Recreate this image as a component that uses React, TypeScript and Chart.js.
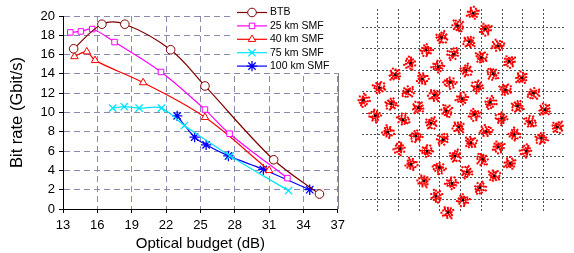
import React, { useEffect, useRef } from 'react';
import { Chart, registerables } from 'chart.js';
import { drawPoint } from 'chart.js/helpers';

Chart.register(...registerables);

const FONT = "'Liberation Sans', Arial, sans-serif";

// ---------- left chart data ----------
const budgetTicks = [13, 16, 19, 22, 25, 28, 31, 34, 37];
const rateTicks = [0, 2, 4, 6, 8, 10, 12, 14, 16, 18, 20];
const seriesNames = ['BTB', '25 km SMF', '40 km SMF', '75 km SMF', '100 km SMF'];

const btbBudget = [13.93, 16.4, 18.4, 22.4, 25.4, 31.4, 35.4];
const btbRate = [16.6, 19.15, 19.15, 16.5, 12.75, 5.1, 1.55];

const smf25Budget = [13.64, 14.56, 15.55, 17.5, 21.56, 25.4, 27.55, 32.6];
const smf25Rate = [18.3, 18.4, 18.65, 17.3, 14.2, 10.3, 7.8, 3.2];

const smf40Budget = [14.0, 15.08, 15.8, 20.0, 25.4, 31.0];
const smf40Rate = [15.8, 16.3, 15.4, 13.1, 9.5, 4.0];

const smf75Budget = [17.34, 18.35, 19.65, 21.6, 23.6, 27.6, 32.7];
const smf75Rate = [10.45, 10.6, 10.45, 10.45, 8.65, 5.5, 1.9];

const smf100Budget = [22.97, 24.5, 25.5, 27.45, 30.5, 34.55];
const smf100Rate = [9.65, 7.45, 6.65, 5.5, 4.1, 2.0];

// ---------- constellation data (cluster centres, grid units) ----------
const constI = [
  0.61, -0.15, -0.92, -1.66, -2.41, -3.15, -3.92, -4.69,
  1.19, 0.42, -0.34, -1.08, -1.85, -2.55, -3.34, -4.11,
  1.8, 1.0, 0.26, -0.51, -1.26, -2.03, -2.77, -3.51,
  2.34, 1.57, 0.82, 0.08, -0.69, -1.43, -2.16, -2.92,
  2.95, 2.16, 1.42, 0.66, -0.09, -0.84, -1.62, -2.39,
  3.51, 2.74, 1.98, 1.23, 0.49, -0.27, -1.03, -1.77,
  4.07, 3.34, 2.58, 1.81, 1.06, 0.31, -0.42, -1.19,
  4.66, 3.89, 3.17, 2.39, 1.62, 0.92, 0.11, -0.61,
];
const constQ = [
  4.65, 4.06, 3.52, 2.94, 2.33, 1.79, 1.18, 0.6,
  3.91, 3.33, 2.75, 2.16, 1.59, 1.01, 0.44, -0.11,
  3.13, 2.59, 1.99, 1.44, 0.84, 0.26, -0.31, -0.88,
  2.41, 1.84, 1.24, 0.67, 0.1, -0.46, -1.06, -1.65,
  1.64, 1.08, 0.5, -0.06, -0.64, -1.23, -1.77, -2.38,
  0.93, 0.33, -0.24, -0.85, -1.37, -1.99, -2.53, -3.15,
  0.16, -0.42, -0.99, -1.57, -2.14, -2.73, -3.27, -3.86,
  -0.64, -1.16, -1.76, -2.34, -2.92, -3.47, -4.04, -4.61,
];
const constGrid = [-4, -3, -2, -1, 0, 1, 2, 3, 4];

const toPts = (xs: number[], ys: number[]) => xs.map((x, i) => ({ x, y: ys[i] }));

// marker sprite styles for noisy symbol clusters
const BLOB_A = [
  [0, 0], [2, -1], [-2, 1], [1, 2], [-1, -2], [3, 1], [-3, -1], [2, 3], [-2, -3],
  [4, -2], [-4, 2], [0, 4], [5, 1], [-5, -1], [3, -4], [-3, 4], [1, -6],
  [6, -2], [-6, 3], [4, 4], [-2, -5], [-1, 3], [2, 6],
];
const BLOB_B = [
  [0, 0], [1, -2], [-2, 0], [2, 1], [-1, 2], [3, -1], [-3, -2], [1, 3], [-3, 2],
  [4, 1], [-5, 0], [0, -4], [3, -4], [-2, 5], [5, -3], [-4, -4], [6, 1],
  [-6, 2], [2, 5], [4, 3], [-1, -6], [7, -1],
];

function makeSprite(blob: number[][]) {
  const c = document.createElement('canvas');
  c.width = 19;
  c.height = 19;
  const g = c.getContext('2d')!;
  g.fillStyle = '#ff0000';
  blob.forEach(([dx, dy]) => g.fillRect(9 + dx - 1, 9 + dy - 1, 2, 2));
  return c;
}

const insetLegend = {
  id: 'insetLegend',
  afterDraw(chart: any) {
    const ctx = chart.ctx;
    const a = chart.chartArea;
    ctx.save();
    ctx.strokeStyle = '#808080';
    ctx.lineWidth = 1;
    ctx.setLineDash([]);
    ctx.beginPath();
    ctx.moveTo(Math.round(a.right) + 0.5, a.top);
    ctx.lineTo(Math.round(a.right) + 0.5, a.bottom);
    ctx.stroke();
    ctx.fillStyle = '#ffffff';
    ctx.fillRect(233, 1, 106, 72);
    chart.data.datasets.forEach((ds: any, i: number) => {
      const y = 12.5 + i * 13.4;
      ctx.strokeStyle = ds.borderColor;
      ctx.lineWidth = 1.2;
      ctx.beginPath();
      ctx.moveTo(237, y);
      ctx.lineTo(267, y);
      ctx.stroke();
      ctx.fillStyle = '#ffffff';
      ctx.strokeStyle = ds.borderColor;
      ctx.lineWidth = ds.pointBorderWidth;
      drawPoint(ctx, { pointStyle: ds.pointStyle, radius: ds.pointRadius, borderWidth: ds.pointBorderWidth, rotation: 0 } as any, 252, y);
      ctx.fillStyle = '#000000';
      ctx.font = '10.5px ' + FONT;
      ctx.textBaseline = 'middle';
      ctx.textAlign = 'left';
      ctx.fillText(ds.label, 270, y);
    });
    ctx.restore();
  },
};

export default function App() {
  const leftRef = useRef<HTMLCanvasElement>(null);
  const rightRef = useRef<HTMLCanvasElement>(null);

  useEffect(() => {
    const GRID = '#8a8ab0';
    const mk = (label: string, xs: number[], ys: number[], color: string, style: string, r: number, bw: number) => ({
      label,
      data: toPts(xs, ys),
      borderColor: color,
      backgroundColor: color,
      borderWidth: 1.2,
      pointStyle: style,
      pointRadius: r,
      pointBorderWidth: bw,
      pointBorderColor: color,
      pointBackgroundColor: '#ffffff',
      tension: 0.35,
      fill: false,
    });
    const left = new Chart(leftRef.current!, {
      type: 'line',
      data: {
        datasets: [
          mk(seriesNames[0], btbBudget, btbRate, '#800000', 'circle', 4.3, 1),
          mk(seriesNames[1], smf25Budget, smf25Rate, '#ff00ff', 'rect', 3.9, 1),
          mk(seriesNames[2], smf40Budget, smf40Rate, '#ff0000', 'triangle', 4.3, 1),
          mk(seriesNames[3], smf75Budget, smf75Rate, '#00e5ff', 'crossRot', 5.2, 1.3),
          mk(seriesNames[4], smf100Budget, smf100Rate, '#0000ff', 'star', 5.2, 1.3),
        ] as any,
      },
      options: {
        animation: false,
        responsive: false,
        maintainAspectRatio: false,
        layout: { padding: { left: 0, right: 10, top: 16, bottom: 0 } },
        plugins: { legend: { display: false }, tooltip: { enabled: false } },
        scales: {
          x: {
            type: 'linear',
            min: 13,
            max: 37,
            afterBuildTicks: (ax: any) => {
              ax.ticks = budgetTicks.map((v) => ({ value: v }));
            },
            afterFit: (s: any) => {
              s.height = 44;
            },
            ticks: { color: '#000', font: { family: FONT, size: 13 }, padding: 5, maxRotation: 0, autoSkip: false },
            grid: { color: GRID, lineWidth: 1, tickLength: 4, tickColor: '#000', drawTicks: true },
            border: { display: true, color: '#000', width: 1, dash: [6, 4] },
            title: {
              display: true,
              text: 'Optical budget (dB)',
              color: '#000',
              font: { family: FONT, size: 15 },
              padding: { top: 0, bottom: 0 },
            },
          },
          y: {
            type: 'linear',
            min: 0,
            max: 20,
            afterBuildTicks: (ax: any) => {
              ax.ticks = rateTicks.map((v) => ({ value: v }));
            },
            afterFit: (s: any) => {
              s.width = 63;
            },
            ticks: { color: '#000', font: { family: FONT, size: 13 }, padding: 4, autoSkip: false },
            grid: { color: GRID, lineWidth: 1, tickLength: 4, tickColor: '#000', drawTicks: true },
            border: { display: true, color: '#000', width: 1, dash: [6, 4] },
            title: {
              display: true,
              text: 'Bit rate (Gbit/s)',
              color: '#000',
              font: { family: FONT, size: 16.5 },
              padding: { top: 8, bottom: 0 },
            },
          },
        },
      } as any,
      plugins: [insetLegend],
    });

    const spriteA = makeSprite(BLOB_A);
    const spriteB = makeSprite(BLOB_B);
    const pts = toPts(constI, constQ);
    const right = new Chart(rightRef.current!, {
      type: 'scatter',
      data: {
        datasets: [
          {
            label: 'received symbols',
            data: pts,
            order: 2,
            pointStyle: (c: any) => (c.dataIndex % 3 === 1 ? spriteB : spriteA),
            pointRadius: 8,
            pointRotation: (c: any) => (c.dataIndex * 67) % 360,
            clip: false as any,
          },
          {
            label: 'ideal',
            data: pts,
            order: 1,
            pointStyle: 'rect',
            pointRadius: 1.7,
            pointBackgroundColor: '#000',
            pointBorderWidth: 0,
            backgroundColor: '#000',
            clip: false as any,
          },
        ] as any,
      },
      options: {
        animation: false,
        responsive: false,
        maintainAspectRatio: false,
        layout: { padding: { left: 10, right: 0, top: 8, bottom: 12 } },
        plugins: { legend: { display: false }, tooltip: { enabled: false } },
        scales: {
          x: {
            type: 'linear',
            min: -4.753,
            max: 5.03,
            afterBuildTicks: (ax: any) => {
              ax.ticks = constGrid.map((v) => ({ value: v }));
            },
            afterFit: (s: any) => {
              s.height = 0;
            },
            ticks: { display: false },
            grid: { color: '#505050', lineWidth: 1, drawTicks: false },
            border: { display: false, dash: [2, 2] },
          },
          y: {
            type: 'linear',
            min: -4.644,
            max: 4.847,
            afterBuildTicks: (ax: any) => {
              ax.ticks = constGrid.map((v) => ({ value: v }));
            },
            afterFit: (s: any) => {
              s.width = 0;
            },
            ticks: { display: false },
            grid: { color: '#505050', lineWidth: 1, drawTicks: false },
            border: { display: false, dash: [2, 2] },
          },
        },
      } as any,
    });

    return () => {
      left.destroy();
      right.destroy();
    };
  }, []);

  return (
    <div style={{ position: 'absolute', left: 0, top: 0, width: 574, height: 253, background: '#fff', overflow: 'hidden' }}>
      <canvas ref={leftRef} width={350} height={253} style={{ position: 'absolute', left: 0, top: 0, width: 350, height: 253 }} />
      <canvas ref={rightRef} width={222} height={225} style={{ position: 'absolute', left: 352, top: 0, width: 222, height: 225 }} />
    </div>
  );
}
